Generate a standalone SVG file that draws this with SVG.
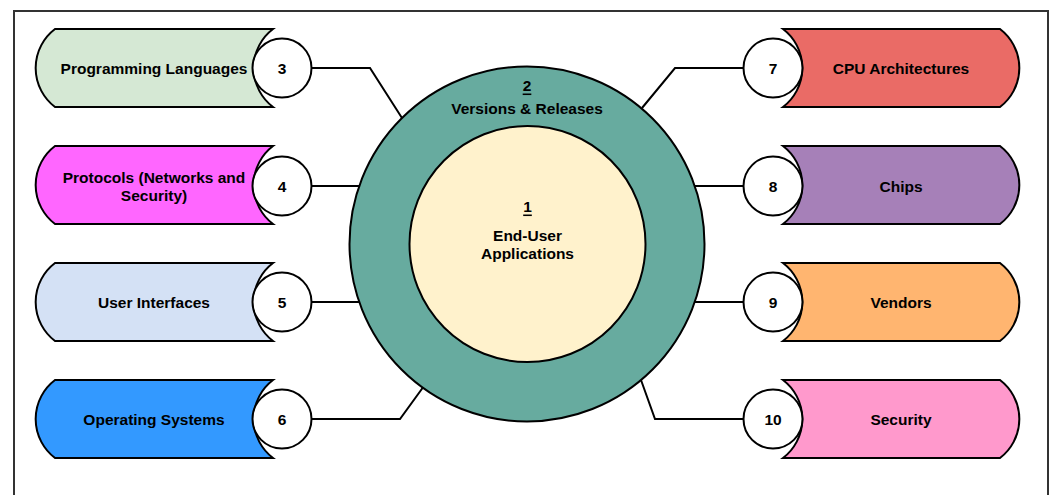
<svg xmlns="http://www.w3.org/2000/svg" width="1051" height="495" viewBox="0 0 1051 495">
<style>
text{font-family:"Liberation Sans",Arial,sans-serif;font-weight:bold;font-size:15.5px;fill:#000;text-anchor:middle;dominant-baseline:central}
.sh{stroke:#000;stroke-width:2}
.num{fill:#fff;stroke:#000;stroke-width:2}
.con{fill:none;stroke:#000;stroke-width:2}
</style>
<rect x="14" y="11" width="1034" height="500" fill="#fff" stroke="#333" stroke-width="2"/>
<g id="connectors">
<polyline class="con" points="312,68 370,68 402,118"/>
<polyline class="con" points="312,186 360,186"/>
<polyline class="con" points="312,302 360,302"/>
<polyline class="con" points="312,419 400,419 424,386"/>
<polyline class="con" points="743,68 675,68 642,108"/>
<polyline class="con" points="743,186 694,186"/>
<polyline class="con" points="743,302 694,302"/>
<polyline class="con" points="743,419 655,419 641,380"/>
</g>
<g id="node2">
<circle cx="527" cy="244" r="177.5" fill="#67ab9f" stroke="#000" stroke-width="2"/>
<text x="527" y="85" text-decoration="underline">2</text>
<text x="527" y="108">Versions &amp; Releases</text>
</g>
<g id="node1">
<circle cx="527.5" cy="244" r="118" fill="#fff2cc" stroke="#000" stroke-width="2"/>
<text x="527.5" y="206" text-decoration="underline">1</text>
<text x="527.5" y="235">End-User</text>
<text x="527.5" y="253">Applications</text>
</g>
<g id="programming-languages">
<path class="sh" fill="#d5e8d4" d="M55,29 H273 A49,49 0 0 0 273,107 H55 A49,49 0 0 1 55,29 Z"/>
<text x="154" y="68">Programming Languages</text>
</g>
<g id="protocols">
<path class="sh" fill="#ff66ff" d="M55,146 H273 A49,49 0 0 0 273,224 H55 A49,49 0 0 1 55,146 Z"/>
<text x="154" y="177">Protocols (Networks and</text>
<text x="154" y="195">Security)</text>
</g>
<g id="user-interfaces">
<path class="sh" fill="#d4e1f5" d="M55,263 H273 A49,49 0 0 0 273,341 H55 A49,49 0 0 1 55,263 Z"/>
<text x="154" y="302">User Interfaces</text>
</g>
<g id="operating-systems">
<path class="sh" fill="#3399ff" d="M55,380 H273 A49,49 0 0 0 273,458 H55 A49,49 0 0 1 55,380 Z"/>
<text x="154" y="419">Operating Systems</text>
</g>
<g id="cpu-architectures">
<path class="sh" fill="#ea6b66" d="M783,29 H1000 A49,49 0 0 1 1000,107 H783 A49,49 0 0 0 783,29 Z"/>
<text x="901" y="68">CPU Architectures</text>
</g>
<g id="chips">
<path class="sh" fill="#a680b8" d="M783,146 H1000 A49,49 0 0 1 1000,224 H783 A49,49 0 0 0 783,146 Z"/>
<text x="901" y="186">Chips</text>
</g>
<g id="vendors">
<path class="sh" fill="#ffb570" d="M783,263 H1000 A49,49 0 0 1 1000,341 H783 A49,49 0 0 0 783,263 Z"/>
<text x="901" y="302">Vendors</text>
</g>
<g id="security">
<path class="sh" fill="#ff99cc" d="M783,380 H1000 A49,49 0 0 1 1000,458 H783 A49,49 0 0 0 783,380 Z"/>
<text x="901" y="419">Security</text>
</g>
<g id="n3"><circle class="num" cx="282" cy="68" r="29.5"/><text x="282" y="68">3</text></g>
<g id="n4"><circle class="num" cx="282" cy="186" r="29.5"/><text x="282" y="186">4</text></g>
<g id="n5"><circle class="num" cx="282" cy="302" r="29.5"/><text x="282" y="302">5</text></g>
<g id="n6"><circle class="num" cx="282" cy="419" r="29.5"/><text x="282" y="419">6</text></g>
<g id="n7"><circle class="num" cx="773" cy="68" r="29.5"/><text x="773" y="68">7</text></g>
<g id="n8"><circle class="num" cx="773" cy="186" r="29.5"/><text x="773" y="186">8</text></g>
<g id="n9"><circle class="num" cx="773" cy="302" r="29.5"/><text x="773" y="302">9</text></g>
<g id="n10"><circle class="num" cx="773" cy="419" r="29.5"/><text x="773" y="419">10</text></g>
</svg>
